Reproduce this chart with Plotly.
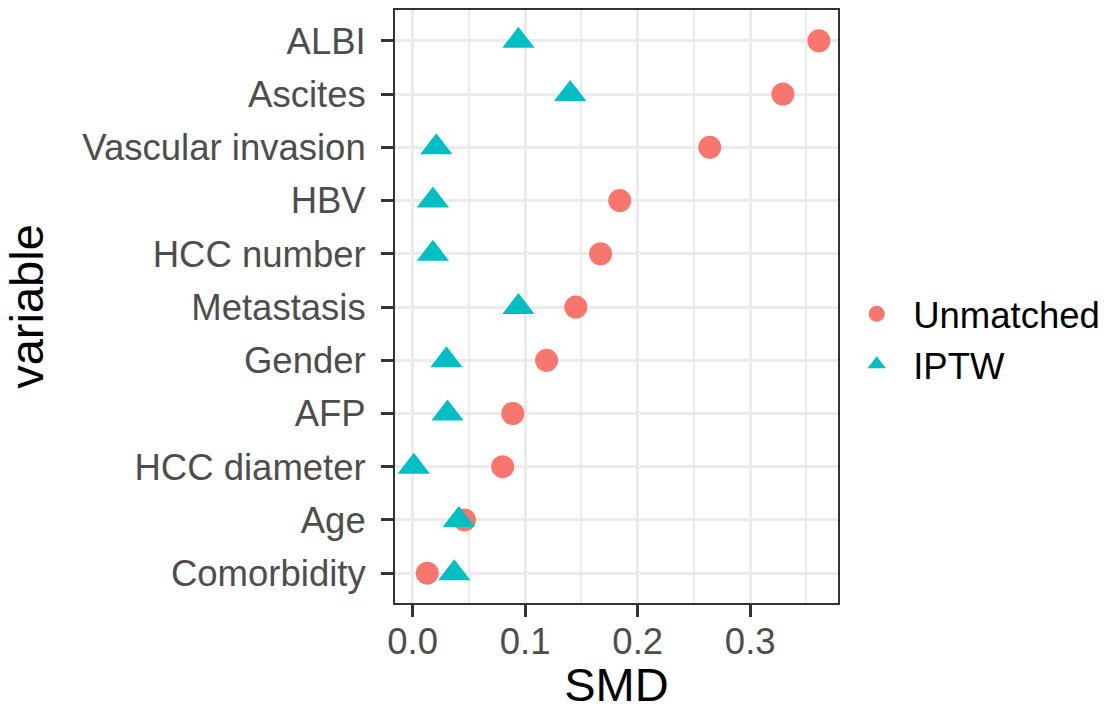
import plotly.graph_objects as go

variables = ["ALBI", "Ascites", "Vascular invasion", "HBV", "HCC number",
             "Metastasis", "Gender", "AFP", "HCC diameter", "Age", "Comorbidity"]
smd_unmatched = [0.361, 0.329, 0.264, 0.184, 0.167, 0.145, 0.119, 0.089, 0.080, 0.046, 0.013]
smd_iptw = [0.094, 0.140, 0.021, 0.018, 0.018, 0.094, 0.030, 0.031, 0.001, 0.041, 0.037]
x_ticks = [0.0, 0.1, 0.2, 0.3]
x_ticklabels = ["0.0", "0.1", "0.2", "0.3"]
threshold = 0.1

FONT = "Liberation Sans, Arial, sans-serif"
TICK_SIZE = 36.5
TITLE_SIZE = 47

fig = go.Figure()
fig.add_trace(go.Scatter(
    x=smd_unmatched, y=variables, mode="markers", name="Unmatched",
    marker=dict(symbol="circle", size=23, color="#F8766D", line=dict(width=0)),
))
fig.add_trace(go.Scatter(
    x=smd_iptw, y=variables, mode="markers", name="IPTW",
    marker=dict(symbol="triangle-up", size=28, color="#00BFC4", line=dict(width=0)),
))

fig.add_shape(type="line", x0=threshold, x1=threshold, y0=0, y1=1,
              xref="x", yref="paper", layer="between",
              line=dict(color="#FF0000", width=1.2, dash="dot"))

fig.update_layout(
    width=1107, height=711,
    margin=dict(l=395, r=269, t=10, b=108, autoexpand=False),
    paper_bgcolor="white", plot_bgcolor="white",
    font=dict(family=FONT, size=TICK_SIZE, color="black"),
    showlegend=True,
    legend=dict(x=1.005, y=0.445, xanchor="left", yanchor="middle",
                font=dict(size=TICK_SIZE, color="black"), itemsizing="trace",
                itemwidth=63, tracegroupgap=0, bgcolor="rgba(0,0,0,0)"),
)

fig.update_xaxes(
    range=[-0.0157, 0.378], tickvals=x_ticks, ticktext=x_ticklabels,
    showgrid=True, gridcolor="#EBEBEB", gridwidth=2.5,
    minor=dict(dtick=0.05, tick0=0.05, showgrid=True, gridcolor="#EBEBEB", gridwidth=1.5, ticks=""),
    zeroline=False,
    showline=True, linecolor="#333333", linewidth=2, mirror=True,
    ticks="outside", ticklen=12, tickwidth=3, tickcolor="#333333",
    tickfont=dict(size=TICK_SIZE, color="#4D4D4D", family=FONT),
    ticklabelstandoff=-7,
    title=dict(text="SMD", font=dict(size=TITLE_SIZE, color="black", family=FONT), standoff=11),
)
fig.update_yaxes(
    type="category", categoryorder="array", categoryarray=variables[::-1],
    range=[-0.56, 10.58],
    showgrid=True, gridcolor="#EBEBEB", gridwidth=2.5,
    zeroline=False,
    showline=True, linecolor="#333333", linewidth=2, mirror=True,
    ticks="outside", ticklen=12, tickwidth=3, tickcolor="#333333",
    tickfont=dict(size=TICK_SIZE, color="#4D4D4D", family=FONT),
    ticklabelstandoff=8,
    title=dict(text="variable", font=dict(size=TITLE_SIZE, color="black", family=FONT), standoff=25),
)

fig.write_html("out.html", config={"displayModeBar": False},
               post_script="document.body.style.margin='0px';document.body.style.overflow='hidden';")
